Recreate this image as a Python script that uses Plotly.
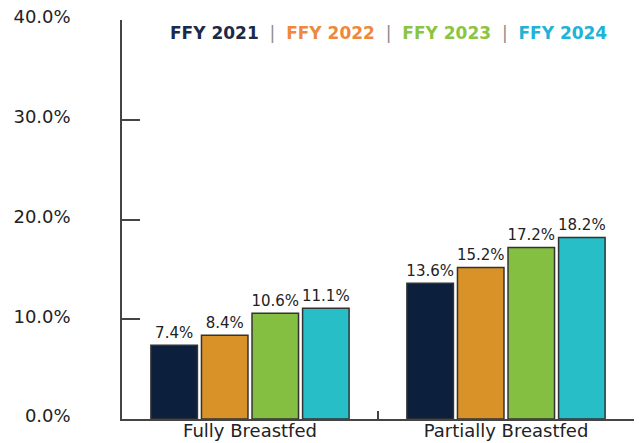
import plotly.graph_objects as go

categories = ["Fully Breastfed", "Partially Breastfed"]
years = ["FFY 2021", "FFY 2022", "FFY 2023", "FFY 2024"]
values = {
    "FFY 2021": [7.4, 13.6],
    "FFY 2022": [8.4, 15.2],
    "FFY 2023": [10.6, 17.2],
    "FFY 2024": [11.1, 18.2],
}
bar_colors = ["#0c1f3d", "#d89228", "#85bf41", "#28bec8"]
legend_colors = ["#1b2a4a", "#f0883c", "#8bc540", "#20b3d6"]
y_ticks = [0, 10, 20, 30, 40]
y_tick_labels = ["0.0%", "10.0%", "20.0%", "30.0%", "40.0%"]

FONT = "DejaVu Sans"

fig = go.Figure()
for yr, col in zip(years, bar_colors):
    fig.add_trace(go.Bar(
        x=categories, y=values[yr], name=yr,
        marker=dict(color=col, line=dict(color="#333333", width=1.5)),
        texttemplate="%{y:.1f}%", textposition="outside", constraintext="none",
        textfont=dict(family=FONT, size=15, color="#222222"),
        cliponaxis=False, showlegend=False,
    ))

sep = "&nbsp;&nbsp;<span style='color:#8a8a8a'>|</span>&nbsp;&nbsp;"
legend_text = sep.join(
    f"<span style='color:{c}'><b>{y}</b></span>" for y, c in zip(years, legend_colors)
)
fig.add_annotation(
    text=legend_text, xref="paper", yref="paper", x=0.52, y=0.967,
    xanchor="center", yanchor="middle", showarrow=False,
    font=dict(family=FONT, size=17),
)

fig.update_layout(
    width=644, height=443,
    margin=dict(l=122, r=10, t=20, b=24),
    paper_bgcolor="white", plot_bgcolor="white",
    barmode="group", bargap=0.21, bargroupgap=0.08,
    font=dict(family=FONT, color="#222222"),
)
fig.update_yaxes(
    range=[0, 40], tickvals=y_ticks, ticktext=y_tick_labels,
    showgrid=False, zeroline=False, automargin=False,
    showline=True, linecolor="#444444", linewidth=1.5,
    ticks="inside", ticklen=18, tickcolor="#444444", tickwidth=1.5,
    ticklabelstandoff=46, ticklabelshift=-3,
    tickfont=dict(family=FONT, size=18, color="#222222"),
)
fig.update_xaxes(
    range=[-0.5, 1.5], showgrid=False, zeroline=False, automargin=False,
    showline=True, linecolor="#444444", linewidth=1.5,
    ticks="inside", tickson="boundaries", ticklen=8, tickcolor="#444444", tickwidth=1.5,
    ticklabelstandoff=-5,
    tickfont=dict(family=FONT, size=18, color="#222222"),
)

fig.write_html(
    "out.html",
    config={"displayModeBar": False},
    post_script="document.body.style.margin='0';document.body.style.overflow='hidden';",
)
